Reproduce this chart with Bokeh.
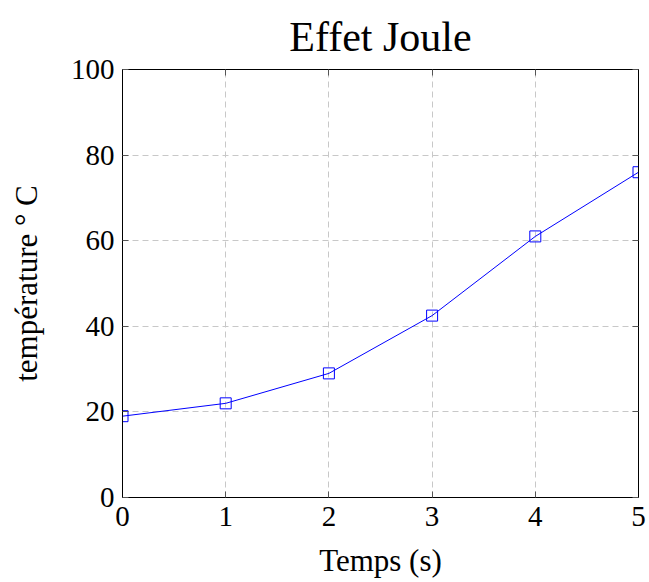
from bokeh.plotting import figure
from bokeh.models import Range1d, LinearAxis, FixedTicker, ColumnDataSource
from bokeh.embed import file_html
from bokeh.resources import INLINE

temps = [0, 1, 2, 3, 4, 5]
temperature = [19, 22, 29, 42.5, 61, 76]
x_ticks = [0, 1, 2, 3, 4, 5]
y_ticks = [0, 20, 40, 60, 80, 100]

FONT = "Liberation Serif"

p = figure(width=646, height=580, output_backend="svg", toolbar_location=None,
           x_range=Range1d(0, 5), y_range=Range1d(0, 100),
           min_border_left=122, min_border_right=8, min_border_top=69, min_border_bottom=82)
p.outline_line_color = "black"
p.outline_line_width = 1

p.title.text = "Effet Joule"
p.title.text_font = FONT
p.title.text_font_size = "42px"
p.title.text_font_style = "normal"
p.title.text_color = "black"
p.title.align = "center"
p.title.offset = 0
p.title.standoff = 20

for ax in (p.xaxis[0], p.yaxis[0]):
    ax.major_label_text_font = FONT
    ax.major_label_text_font_size = "29px"
    ax.major_label_text_color = "black"
    ax.axis_label_text_font = FONT
    ax.axis_label_text_font_size = "31px"
    ax.axis_label_text_font_style = "normal"
    ax.axis_label_text_color = "black"
    ax.major_tick_in = 6
    ax.major_tick_out = 0
    ax.minor_tick_line_color = None
    ax.axis_line_color = "black"
    ax.major_tick_line_color = "#555555"

p.xaxis[0].ticker = FixedTicker(ticks=x_ticks)
p.yaxis[0].ticker = FixedTicker(ticks=y_ticks)
p.xaxis[0].axis_label = "Temps (s)"
p.yaxis[0].axis_label = "température ° C"
p.xaxis[0].major_label_standoff = 9
p.xaxis[0].axis_label_standoff = 14
p.yaxis[0].major_label_standoff = 8
p.yaxis[0].axis_label_standoff = 24

for loc, tk in (("right", y_ticks), ("above", x_ticks)):
    a = LinearAxis(ticker=FixedTicker(ticks=tk), major_label_text_font_size="0px",
                   major_tick_in=6, major_tick_out=0, minor_tick_line_color=None,
                   major_tick_line_color="#555555", axis_line_color="black")
    p.add_layout(a, loc)

p.grid.grid_line_color = "#c8c8c8"
p.grid.grid_line_dash = "6 4"
p.grid.grid_line_width = 1
p.xgrid.ticker = FixedTicker(ticks=x_ticks)
p.ygrid.ticker = FixedTicker(ticks=y_ticks)

src = ColumnDataSource(dict(x=temps, y=temperature))
p.line("x", "y", source=src, line_color="blue", line_width=1)
p.scatter("x", "y", source=src, marker="square", size=11, fill_color=None,
          line_color="blue", line_width=1)

open("out.html", "w").write(file_html(p, INLINE))
